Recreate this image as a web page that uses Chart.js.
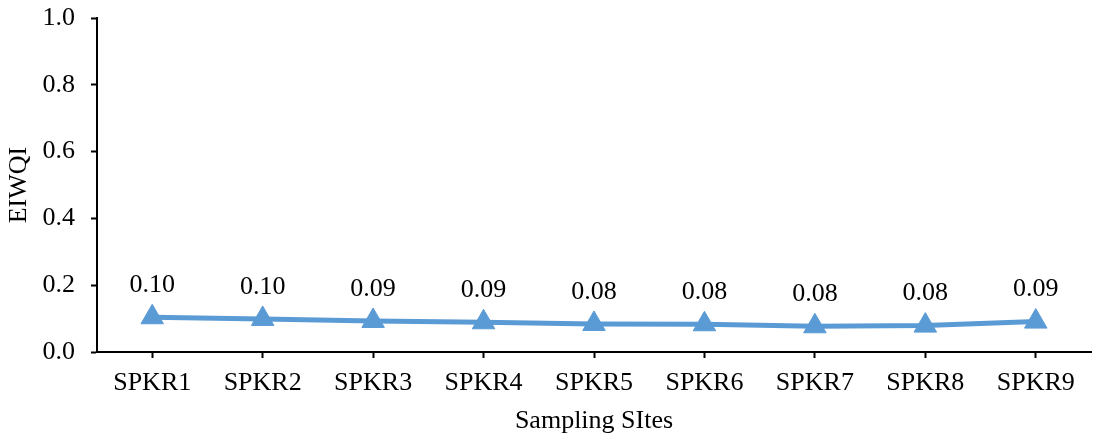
<!DOCTYPE html>
<html>
<head>
<meta charset="utf-8">
<script src="https://cdn.jsdelivr.net/npm/chart.js@4.4.1/dist/chart.umd.min.js"></script>
<style>
  html, body { margin: 0; padding: 0; background: #fff; }
  #wrap { width: 1094px; height: 441px; }
</style>
</head>
<body>
<div id="wrap"><canvas id="myChart"></canvas></div>
<script>
var sites = ['SPKR1', 'SPKR2', 'SPKR3', 'SPKR4', 'SPKR5', 'SPKR6', 'SPKR7', 'SPKR8', 'SPKR9'];
var eiwqi = [0.104, 0.099, 0.093, 0.089, 0.084, 0.083, 0.077, 0.079, 0.091];

var serif = 'Liberation Serif, Times New Roman, serif';
var blue = '#5B9BD5';

// value labels above each point
var valueLabels = {
  id: 'valueLabels',
  afterDatasetsDraw: function(chart) {
    var ctx = chart.ctx;
    var meta = chart.getDatasetMeta(0);
    ctx.save();
    ctx.font = '26px ' + serif;
    ctx.fillStyle = '#000';
    ctx.textAlign = 'center';
    ctx.textBaseline = 'middle';
    meta.data.forEach(function(pt, i) {
      ctx.fillText(eiwqi[i].toFixed(2), pt.x, pt.y - 32);
    });
    ctx.restore();
  }
};

var ctx = document.getElementById('myChart').getContext('2d');
new Chart(ctx, {
  type: 'line',
  data: {
    labels: sites,
    datasets: [{
      data: eiwqi,
      borderColor: blue,
      backgroundColor: blue,
      borderWidth: 5,
      pointStyle: 'triangle',
      pointRadius: 13,
      pointBorderWidth: 1,
      pointBackgroundColor: blue,
      pointBorderColor: blue,
      tension: 0
    }]
  },
  options: {
    responsive: true,
    maintainAspectRatio: false,
    animation: false,
    layout: {
      autoPadding: false,
      padding: { top: 18, right: 3, left: 0, bottom: 0 }
    },
    plugins: {
      legend: { display: false },
      tooltip: { enabled: false }
    },
    scales: {
      x: {
        offset: true,
        grid: {
          offset: false,
          drawOnChartArea: false,
          drawTicks: true,
          tickLength: 6,
          tickColor: '#000',
          tickWidth: 2
        },
        border: { color: '#000', width: 2 },
        ticks: {
          color: '#000',
          padding: 10,
          maxRotation: 0,
          font: { family: serif, size: 26 }
        },
        title: {
          display: true,
          text: 'Sampling SItes',
          color: '#000',
          font: { family: serif, size: 26 }
        },
        afterFit: function(scale) {
          scale.height = 89;
          scale.paddingLeft = 0;
          scale.paddingRight = 0;
        }
      },
      y: {
        min: 0,
        max: 1,
        grid: {
          drawOnChartArea: false,
          drawTicks: true,
          tickLength: 6,
          tickColor: '#000',
          tickWidth: 2
        },
        border: { color: '#000', width: 2 },
        ticks: {
          stepSize: 0.2,
          color: '#000',
          padding: 16,
          font: { family: serif, size: 26 },
          callback: function(v) { return v.toFixed(1); }
        },
        title: {
          display: true,
          text: 'EIWQI',
          color: '#000',
          font: { family: serif, size: 26 }
        },
        afterFit: function(scale) {
          scale.width = 97;
          scale.paddingTop = 0;
          scale.paddingBottom = 0;
        }
      }
    }
  },
  plugins: [valueLabels]
});
</script>
</body>
</html>
